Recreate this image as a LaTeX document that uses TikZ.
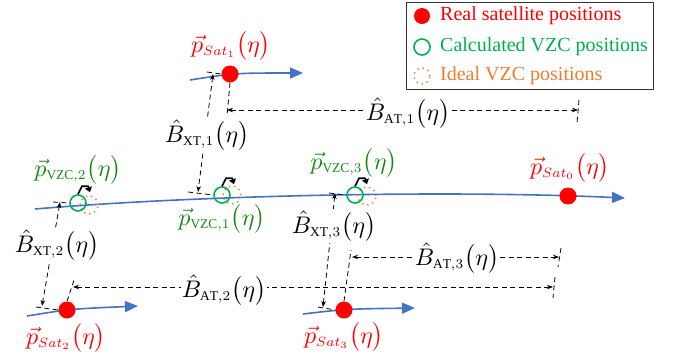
\documentclass[tikz,border=0pt]{standalone}
\usepackage{graphicx}
\usepackage{fontspec}
\setmainfont{Liberation Serif}
\usetikzlibrary{arrows.meta}
\definecolor{trk}{RGB}{68,114,196}
\definecolor{lgreen}{RGB}{0,176,80}
\definecolor{dgreen}{RGB}{20,135,20}
\definecolor{org}{RGB}{237,125,49}
\newcommand{\mylabmath}[1]{\scalebox{2.4}{$#1$}}
\newcommand{\sbx}[1]{\scalebox{0.8}{$\scriptstyle #1$}}
\newcommand{\etaarg}{\bigl(\eta\bigr)}
\begin{document}
\begin{tikzpicture}[x=1pt,y=-1pt,
  track/.style={trk,line width=1.6pt,-{Triangle[length=13pt,width=11pt]}},
  realsat/.style={circle,fill=red,inner sep=0pt,minimum size=17pt},
  calcvzc/.style={circle,draw=lgreen,line width=1.6pt,inner sep=0pt,minimum size=16pt},
  idealvzc/.style={circle,draw=org,line width=1.5pt,dash pattern=on 1.3pt off 4pt,inner sep=0pt,minimum size=18pt},
  dim/.style={black,line width=0.8pt,dash pattern=on 5pt off 3.5pt},
  dimarr/.style={dim,{Stealth[length=6pt,width=4.5pt]}-{Stealth[length=6pt,width=4.5pt]}},
  hook/.style={black,line width=1.6pt,-{Triangle[length=5pt,width=7pt]}},
  mlab/.style={inner sep=1pt},
  blab/.style={mlab,fill=white,inner sep=1pt},
  legtxt/.style={font=\fontsize{20}{24}\selectfont,anchor=west,inner sep=0pt}]
\useasboundingbox (0,0) rectangle (674,360);

% legend
\node[draw=black!80,line width=1pt,minimum width=247pt,minimum height=87pt,anchor=north west,inner sep=0pt] (leg) at (406,2) {};
\node[realsat,minimum size=16pt] (lr) at (422,16) {};
\node[calcvzc] (lg) at (422,47) {};
\node[idealvzc,minimum size=16pt] (lo) at (422,76) {};
\node[legtxt,text=red] (lrt) at (440,16) {Real satellite positions};
\node[legtxt,text=lgreen] (lgt) at (440,47) {Calculated VZC positions};
\node[legtxt,text=org] (lot) at (440,76) {Ideal VZC positions};

% tracks
\draw[track] (190,80) .. controls (235,73) .. (303,73);
\draw[track] (35,209) .. controls (200,195) and (450,190) .. (625,198);
\draw[track] (27,316) .. controls (70,309) .. (138,306);
\draw[track] (303,314) .. controls (346,309) .. (415,308);

% ideal VZC
\node[idealvzc] (o2) at (89,205) {};
\node[idealvzc] (o1) at (232,195) {};
\node[idealvzc] (o3) at (367,196) {};

% satellites
\node[realsat] (s1) at (230,74) {};
\node[realsat] (s0) at (568,196) {};
\node[realsat] (s2) at (67,310) {};
\node[realsat] (s3) at (344,310) {};

% calculated VZC
\node[calcvzc] (g2) at (78,203) {};
\node[calcvzc] (g1) at (222,195) {};
\node[calcvzc] (g3) at (355,195) {};

% hooks
\draw[hook] (g2.north) -- ++(4,-8) -- ++(6,0) -- ++(2,6);
\draw[hook] (g1.north) -- ++(4,-8) -- ++(6,0) -- ++(2,6);
\draw[hook] (g3.north) -- ++(4,-8) -- ++(6,0) -- ++(2,6);

% labels of positions
\node[mlab,text=red] (ls1) at (231,46) {\mylabmath{\vec{p}_{\sbx{Sat_1}}\etaarg}};
\node[mlab,text=red] (ls0) at (570,168) {\mylabmath{\vec{p}_{\sbx{Sat_0}}\etaarg}};
\node[mlab,text=red] (ls2) at (66,338) {\mylabmath{\vec{p}_{\sbx{Sat_2}}\etaarg}};
\node[mlab,text=red] (ls3) at (344,337) {\mylabmath{\vec{p}_{\sbx{Sat_3}}\etaarg}};
\node[mlab,text=dgreen] (lg2) at (78,170) {\mylabmath{\vec{p}_{\sbx{\mathrm{VZC},2}}\etaarg}};
\node[mlab,text=dgreen] (lg1) at (222,219) {\mylabmath{\vec{p}_{\sbx{\mathrm{VZC},1}}\etaarg}};
\node[mlab,text=dgreen] (lg3) at (354,163) {\mylabmath{\vec{p}_{\sbx{\mathrm{VZC},3}}\etaarg}};

% cross-track dimension lines
\coordinate (x1a) at (213,74); \coordinate (x1b) at (198,192);
\coordinate (x2a) at (60,202); \coordinate (x2b) at (42,306);
\coordinate (x3a) at (335,193); \coordinate (x3b) at (323,307);
\draw[dim] (207,72) -- (s1.west);
\draw[dim] (188,192) -- (g1.west);
\draw[dim] (53,202) -- (g2.west);
\draw[dim] (36,307) -- (s2.west);
\draw[dim] (329,193) -- (g3.west);
\draw[dim] (318,307) -- (s3.west);
\draw[dimarr] (x1a) -- (x1b);
\draw[dimarr] (x2a) -- (x2b);
\draw[dimarr] (x3a) -- (x3b);
\node[blab] (bx1) at (207,135) {\mylabmath{\hat{B}_{\sbx{\mathrm{XT},1}}\etaarg}};
\node[blab] (bx2) at (57,245) {\mylabmath{\hat{B}_{\sbx{\mathrm{XT},2}}\etaarg}};
\node[blab] (bx3) at (334,226) {\mylabmath{\hat{B}_{\sbx{\mathrm{XT},3}}\etaarg}};

% along-track dimension lines
\coordinate (a1a) at (227,110); \coordinate (a1b) at (578,110);
\coordinate (a2a) at (73,287); \coordinate (a2b) at (553,287);
\coordinate (a3a) at (352,257); \coordinate (a3b) at (559,257);
\draw[dim] (s1.south) -- (227,116);
\draw[dim] (s2.north) -- (74,280);
\draw[dim] (s3.north) -- (351,250);
\draw[dim] (579,100) -- (577,123);
\draw[dim] (555,277) -- (553,298);
\draw[dim] (561,248) -- (558,267);
\draw[dimarr] (a1a) -- (a1b);
\draw[dimarr] (a2a) -- (a2b);
\draw[dimarr] (a3a) -- (a3b);
\node[blab] (ba1) at (408,113) {\mylabmath{\hat{B}_{\sbx{\mathrm{AT},1}}\etaarg}};
\node[blab] (ba2) at (224,290) {\mylabmath{\hat{B}_{\sbx{\mathrm{AT},2}}\etaarg}};
\node[blab] (ba3) at (457,258) {\mylabmath{\hat{B}_{\sbx{\mathrm{AT},3}}\etaarg}};
\end{tikzpicture}
\end{document}
